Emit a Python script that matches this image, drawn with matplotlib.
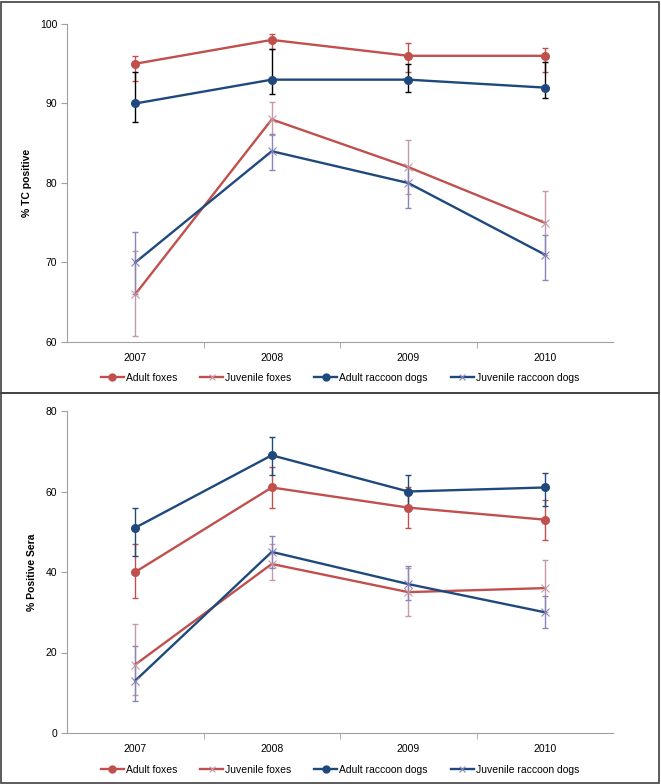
import matplotlib
matplotlib.use("Agg")
import matplotlib.pyplot as plt
from matplotlib.patches import Rectangle
from matplotlib.lines import Line2D
import numpy as np

plt.rcParams['font.family'] = ['Liberation Sans', 'DejaVu Sans']

years = ['2007', '2008', '2009', '2010']
labels = ['Adult foxes', 'Juvenile foxes', 'Adult raccoon dogs', 'Juvenile raccoon dogs']

# panel A: % TC positive  (value, upper, lower)
tc_adult_fox = [95, 98, 96, 96]
tc_adult_fox_hi = [96.0, 98.8, 97.6, 97.0]
tc_adult_fox_lo = [92.8, 96.8, 94.0, 94.0]
tc_juv_fox = [66, 88, 82, 75]
tc_juv_fox_hi = [71.5, 90.2, 85.4, 79.0]
tc_juv_fox_lo = [60.7, 86.0, 78.6, 71.0]
tc_adult_rd = [90, 93, 93, 92]
tc_adult_rd_hi = [93.9, 96.9, 95.0, 95.2]
tc_adult_rd_lo = [87.7, 91.2, 91.5, 90.7]
tc_juv_rd = [70, 84, 80, 71]
tc_juv_rd_hi = [73.8, 86.2, 82.0, 73.5]
tc_juv_rd_lo = [66.0, 81.6, 76.8, 67.8]

# panel B: % positive sera
se_adult_fox = [40, 61, 56, 53]
se_adult_fox_hi = [47, 66, 61, 58]
se_adult_fox_lo = [33.5, 56, 51, 48]
se_juv_fox = [17, 42, 35, 36]
se_juv_fox_hi = [27, 47, 41, 43]
se_juv_fox_lo = [9.5, 38, 29, 30]
se_adult_rd = [51, 69, 60, 61]
se_adult_rd_hi = [56, 73.6, 64, 64.7]
se_adult_rd_lo = [44, 64, 56, 56.5]
se_juv_rd = [13, 45, 37, 30]
se_juv_rd_hi = [21.5, 49, 41.5, 34]
se_juv_rd_lo = [8, 41, 33, 26]

RED = '#C0504D'
BLUE = '#1F497D'
PINK = '#C49AAA'
PURPLE = '#8A86B8'

W, H = 661, 784
fig = plt.figure(figsize=(W / 100, H / 100), dpi=100)

# panel frames
fig.add_artist(Rectangle((1 / W, 391 / H), 658 / W, 391 / H, transform=fig.transFigure,
                         fill=False, edgecolor='#404040', lw=1.2))
fig.add_artist(Rectangle((1 / W, 1 / H), 658 / W, 390 / H, transform=fig.transFigure,
                         fill=False, edgecolor='#404040', lw=1.2))


def panel(ax, series, ylim, yticks, ylabel):
    x = np.arange(1, 5)
    # error bars first, lines on top
    for vals, hi, lo, col, ecol, mk in series:
        v = np.array(vals)
        err = [v - np.array(lo), np.array(hi) - v]
        ax.errorbar(x, v, yerr=err, fmt='none', ecolor=ecol, elinewidth=1.0,
                    capsize=2.5, capthick=1.0, zorder=2)
    for vals, hi, lo, col, ecol, mk in series:
        if mk == 'o':
            ax.plot(x, vals, color=col, lw=1.7, marker='o', ms=5.5, zorder=3)
        else:
            ax.plot(x, vals, color=col, lw=1.7, marker='x', ms=6, mew=0.8,
                    mec=ecol, zorder=3)
    ax.set_xlim(0.5, 4.5)
    ax.set_ylim(*ylim)
    ax.set_yticks(yticks)
    ax.set_xticks(x)
    ax.set_xticklabels(years)
    ax.set_xticks([1.5, 2.5, 3.5], minor=True)
    ax.tick_params(axis='x', which='major', length=0, labelsize=7.5, pad=8)
    ax.tick_params(axis='x', which='minor', length=4, color='#A0A0A0', direction='out')
    ax.tick_params(axis='y', length=4, color='#A0A0A0', labelsize=7.5, pad=3)
    for s in ['top', 'right']:
        ax.spines[s].set_visible(False)
    for s in ['left', 'bottom']:
        ax.spines[s].set_color('#A0A0A0')
        ax.spines[s].set_linewidth(0.8)
    ax.set_ylabel(ylabel, fontsize=7.5, fontweight='bold', labelpad=6)


ax1 = fig.add_axes([67 / W, (H - 342) / H, 546 / W, 318 / H])
panel(ax1, [
    (tc_adult_fox, tc_adult_fox_hi, tc_adult_fox_lo, RED, RED, 'o'),
    (tc_adult_rd, tc_adult_rd_hi, tc_adult_rd_lo, BLUE, 'black', 'o'),
    (tc_juv_fox, tc_juv_fox_hi, tc_juv_fox_lo, RED, PINK, 'x'),
    (tc_juv_rd, tc_juv_rd_hi, tc_juv_rd_lo, BLUE, PURPLE, 'x'),
], (60, 100), [60, 70, 80, 90, 100], '% TC positive')

ax2 = fig.add_axes([67 / W, (H - 733) / H, 546 / W, 322 / H])
panel(ax2, [
    (se_adult_fox, se_adult_fox_hi, se_adult_fox_lo, RED, RED, 'o'),
    (se_adult_rd, se_adult_rd_hi, se_adult_rd_lo, BLUE, BLUE, 'o'),
    (se_juv_fox, se_juv_fox_hi, se_juv_fox_lo, RED, PINK, 'x'),
    (se_juv_rd, se_juv_rd_hi, se_juv_rd_lo, BLUE, PURPLE, 'x'),
], (0, 80), [0, 20, 40, 60, 80], '% Positive Sera')

handles = [
    Line2D([], [], color=RED, lw=1.7, marker='o', ms=5),
    Line2D([], [], color=RED, lw=1.7, marker='x', ms=5, mec=PINK, mew=0.8),
    Line2D([], [], color=BLUE, lw=1.7, marker='o', ms=5),
    Line2D([], [], color=BLUE, lw=1.7, marker='x', ms=5, mec=PURPLE, mew=0.8),
]
for ly in [378, 770]:
    fig.legend(handles, labels, loc='center', bbox_to_anchor=(340 / W, (H - ly) / H),
               ncol=4, frameon=False, fontsize=7.5, handlelength=2.2,
               handletextpad=0.2, columnspacing=2.2)

fig.savefig('out.png', dpi=100)
